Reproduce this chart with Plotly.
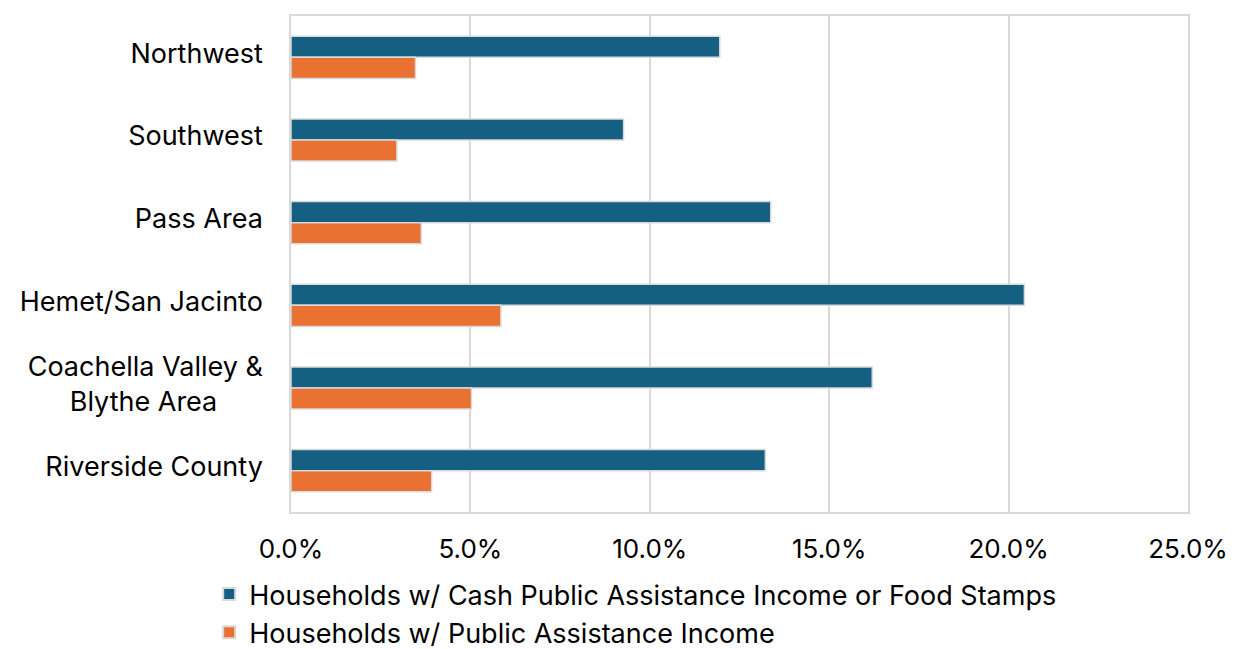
import plotly.graph_objects as go

# Regions, listed top to bottom as they appear on the chart
regions = [
    "Northwest",
    "Southwest",
    "Pass Area",
    "Hemet/San Jacinto",
    "Coachella Valley & Blythe Area",
    "Riverside County",
]
region_labels = [
    "Northwest",
    "Southwest",
    "Pass Area",
    "Hemet/San Jacinto",
    "Coachella Valley &<br>Blythe Area" + "\u00a0" * 6,
    "Riverside County",
]

# Share of households (percent)
cash_or_food_stamps = [11.95, 9.27, 13.37, 20.44, 16.2, 13.22]
public_assistance = [3.47, 2.95, 3.63, 5.85, 5.03, 3.92]

series_names = [
    "Households w/ Cash Public Assistance Income or Food Stamps",
    "Households w/ Public Assistance Income",
]
x_ticks = [0, 5, 10, 15, 20, 25]
x_tick_text = ["0.0%", "5.0%", "10.0%", "15.0%", "20.0%", "25.0%"]

BLUE = "#156082"
ORANGE = "#E97132"
EDGE = "#d9d9d9"
FONT = "Inter, Open Sans, sans-serif"

fig = go.Figure()
fig.add_trace(go.Bar(
    y=regions, x=cash_or_food_stamps, orientation="h", name=series_names[0],
    marker=dict(color=BLUE, line=dict(color=EDGE, width=1.5)),
))
fig.add_trace(go.Bar(
    y=regions, x=public_assistance, orientation="h", name=series_names[1],
    marker=dict(color=ORANGE, line=dict(color=EDGE, width=1.5)),
))

fig.update_layout(
    width=1235, height=649,
    margin=dict(l=291, r=47, t=16, b=137, autoexpand=False),
    paper_bgcolor="white", plot_bgcolor="white",
    font=dict(family=FONT, size=27, color="#000000"),
    barmode="group", bargap=0.49, bargroupgap=0.0,
    showlegend=True,
    legend=dict(
        orientation="v", x=-0.0912, xanchor="left", y=-0.117, yanchor="top",
        font=dict(family=FONT, size=27, color="#000000"),
        traceorder="normal", itemsizing="constant",
        tracegroupgap=0, bgcolor="rgba(0,0,0,0)",
    ),
)

fig.update_xaxes(
    range=[0, 25], tickvals=x_ticks, ticktext=x_tick_text,
    showgrid=True, gridcolor=EDGE, gridwidth=1.5,
    showline=True, linecolor=EDGE, linewidth=1.5, mirror=True,
    zeroline=False, ticks="", ticklabelstandoff=13,
    tickfont=dict(family=FONT, size=26, color="#000000"),
    fixedrange=True, automargin=False,
)
fig.update_yaxes(
    type="category", categoryorder="array", categoryarray=regions,
    tickvals=regions, ticktext=region_labels,
    autorange="reversed",
    showgrid=False,
    showline=True, linecolor=EDGE, linewidth=1.5, mirror=True,
    ticks="", ticklabelstandoff=21, ticklabelshift=4,
    tickfont=dict(family=FONT, size=27, color="#000000"),
    fixedrange=True, automargin=False,
)

fig.write_html("out.html")
